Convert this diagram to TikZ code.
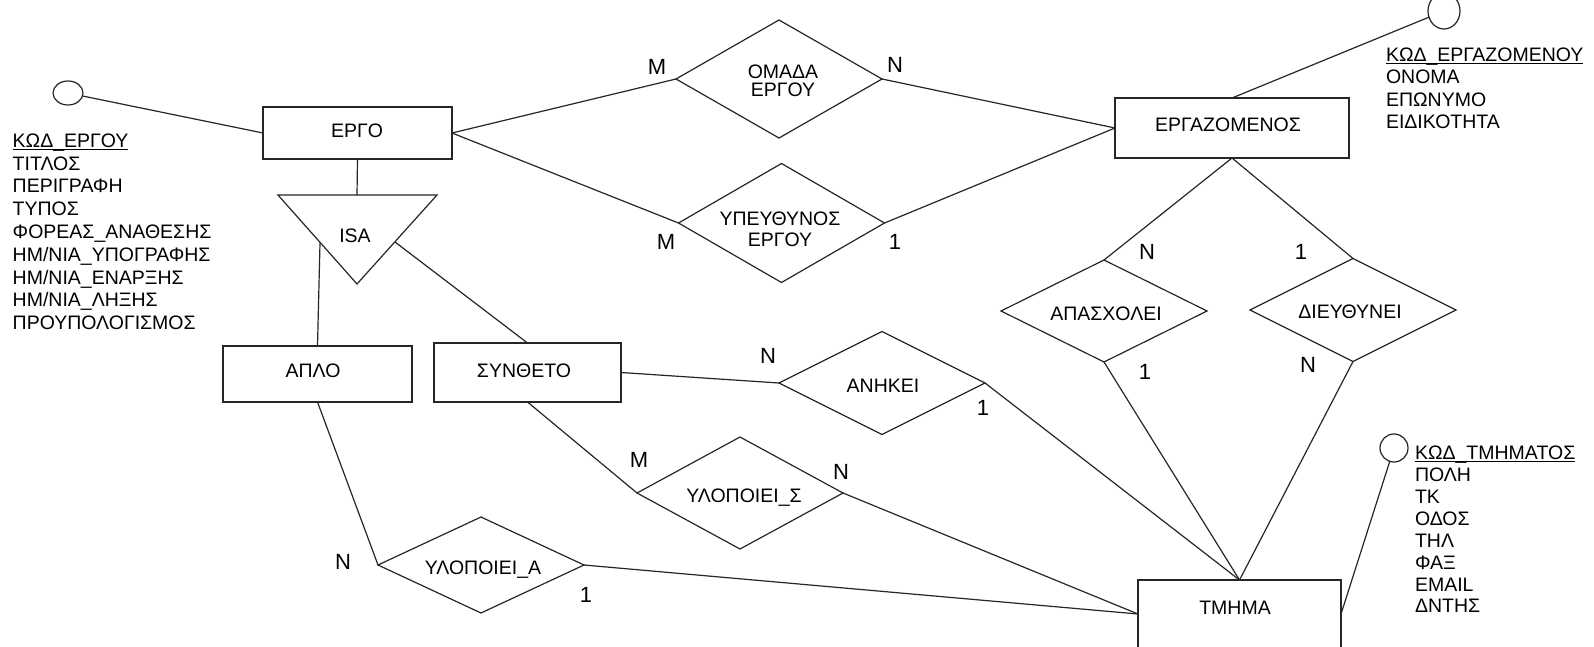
\documentclass[tikz,border=0pt]{standalone}
\usepackage{fontspec}
\setmainfont{Liberation Sans}
\usetikzlibrary{shapes.geometric}
\newcommand\ulkey[1]{\setbox0\hbox{#1}\rlap{\rule[-2.6pt]{\wd0}{1.2pt}}\box0}
\begin{document}
\begin{tikzpicture}[x=1pt,y=-1pt,
  every node/.style={inner sep=0pt, outer sep=0pt},
  line/.style={draw=black!85, line width=1.2pt},
  entity/.style={rectangle, draw=black!85, line width=1.2pt},
  rel/.style={diamond, draw=black!85, line width=1.2pt, minimum width=206pt},
  attr/.style={ellipse, draw=black!85, line width=1.2pt},
  txt/.style={font=\fontsize{19.5}{22}\selectfont, text height=14pt, text depth=0pt},
  card/.style={font=\fontsize{22}{26}\selectfont, text height=15.8pt, text depth=0pt},
  attrlist/.style={anchor=north west, align=left}
]
\useasboundingbox (0,0) rectangle (1594,647);
\fill[white] (0,0) rectangle (1594,647);
\clip (0,0) rectangle (1594,647);

% entities
\node[entity, minimum width=189pt, minimum height=52pt] (ergo) at (357.5,133) {};
\node[txt] (ergoT) at (357,131) {ΕΡΓΟ};
\node[entity, minimum width=234pt, minimum height=60pt] (ergaz) at (1232,128) {};
\node[txt] (ergazT) at (1228,125) {ΕΡΓΑΖΟΜΕΝΟΣ};
\node[entity, minimum width=189pt, minimum height=56pt] (aplo) at (317.5,374) {};
\node[txt] (aploT) at (313,370) {ΑΠΛΟ};
\node[entity, minimum width=187pt, minimum height=59pt] (synth) at (527.5,372.5) {};
\node[txt] (synthT) at (524,370) {ΣΥΝΘΕΤΟ};
\node[entity, minimum width=203pt, minimum height=68pt] (tmhma) at (1239.5,614) {};
\node[txt] (tmhmaT) at (1235,607) {ΤΜΗΜΑ};

% ISA triangle
\coordinate (isaTL) at (278,195);
\coordinate (isaTR) at (437,195);
\coordinate (isaB) at (357,284);
\coordinate (isaTop) at (357,195);
\coordinate (isaL) at (320,243);
\coordinate (isaR) at (395,242);
\draw[line] (isaTL) -- (isaTR) -- (isaB) -- cycle;
\node[txt] (isa) at (355,235) {ISA};

% relationships
\node[rel, minimum height=118pt] (omada) at (779,79) {};
\node[txt] (omadaT1) at (783,72) {ΟΜΑΔΑ};
\node[txt] (omadaT2) at (783,90) {ΕΡΓΟΥ};
\node[rel, minimum height=119pt] (ypeyth) at (781.5,223) {};
\node[txt] (ypeythT1) at (780,218) {ΥΠΕΥΘΥΝΟΣ};
\node[txt] (ypeythT2) at (780,239) {ΕΡΓΟΥ};
\node[rel, minimum height=102pt] (apasx) at (1104,311) {};
\node[txt] (apasxT) at (1106,313) {ΑΠΑΣΧΟΛΕΙ};
\node[rel, minimum height=103pt] (dieyth) at (1353,310) {};
\node[txt] (dieythT) at (1350,311) {ΔΙΕΥΘΥΝΕΙ};
\node[rel, minimum height=103pt] (anhkei) at (882,383) {};
\node[txt] (anhkeiT) at (883,385) {ΑΝΗΚΕΙ};
\node[rel, minimum height=112pt] (ylopS) at (740,493) {};
\node[txt] (ylopST) at (744,495) {ΥΛΟΠΟΙΕΙ\_Σ};
\node[rel, minimum height=96pt] (ylopA) at (481,565) {};
\node[txt] (ylopAT) at (483,567) {ΥΛΟΠΟΙΕΙ\_Α};

% attribute circles
\node[attr, minimum width=30pt, minimum height=24pt] (c1) at (68,93) {};
\node[attr, minimum width=32pt, minimum height=36pt] (c2) at (1444,11) {};
\node[attr, minimum width=28pt, minimum height=28pt] (c3) at (1394,448) {};

% attribute lists
\node[attrlist, font=\fontsize{19.5}{22.8}\selectfont] (listErgo) at (12.7,133.6)
  {\ulkey{ΚΩΔ\_ΕΡΓΟΥ}\\ΤΙΤΛΟΣ\\ΠΕΡΙΓΡΑΦΗ\\ΤΥΠΟΣ\\ΦΟΡΕΑΣ\_ΑΝΑΘΕΣΗΣ\\ΗΜ/ΝΙΑ\_ΥΠΟΓΡΑΦΗΣ\\ΗΜ/ΝΙΑ\_ΕΝΑΡΞΗΣ\\ΗΜ/ΝΙΑ\_ΛΗΞΗΣ\\ΠΡΟΥΠΟΛΟΓΙΣΜΟΣ};
\node[attrlist, font=\fontsize{19.5}{22.3}\selectfont] (listErgaz) at (1386,48)
  {\ulkey{ΚΩΔ\_ΕΡΓΑΖΟΜΕΝΟΥ}\\ΟΝΟΜΑ\\ΕΠΩΝΥΜΟ\\ΕΙΔΙΚΟΤΗΤΑ};
\node[attrlist, font=\fontsize{19.5}{21.9}\selectfont] (listTmhma) at (1415,446)
  {\ulkey{ΚΩΔ\_ΤΜΗΜΑΤΟΣ}\\ΠΟΛΗ\\ΤΚ\\ΟΔΟΣ\\ΤΗΛ\\ΦΑΞ\\EMAIL\\ΔΝΤΗΣ};

% connectors
\draw[line] (c1) -- (ergo.west);
\draw[line] (c2) -- (ergaz.north);
\draw[line] (c3) -- (tmhma.east);
\draw[line] (ergo.south) -- (isaTop);
\draw[line] (isaL) -- (aplo.north);
\draw[line] (isaR) -- (synth.north);
\draw[line] (ergo.east) -- (omada.west);
\draw[line] (ergo.east) -- (ypeyth.west);
\draw[line] (omada.east) -- (ergaz.west);
\draw[line] (ypeyth.east) -- (ergaz.west);
\draw[line] (ergaz.south) -- (apasx.north);
\draw[line] (ergaz.south) -- (dieyth.north);
\draw[line] (apasx.south) -- (tmhma.north);
\draw[line] (dieyth.south) -- (tmhma.north);
\draw[line] (synth.east) -- (anhkei.west);
\draw[line] (anhkei.east) -- (tmhma.north);
\draw[line] (synth.south) -- (ylopS.west);
\draw[line] (ylopS.east) -- (tmhma.west);
\draw[line] (aplo.south) -- (ylopA.west);
\draw[line] (ylopA.east) -- (tmhma.west);

% cardinalities
\node[card] (k1) at (657,67) {M};
\node[card] (k2) at (895,65) {N};
\node[card] (k3) at (666,242) {M};
\node[card] (k4) at (895,242) {1};
\node[card] (k5) at (1147,252) {N};
\node[card] (k6) at (1145,372) {1};
\node[card] (k7) at (1301,252) {1};
\node[card] (k8) at (1308,365) {N};
\node[card] (k9) at (768,356) {N};
\node[card] (k10) at (983,408) {1};
\node[card] (k11) at (639,460) {M};
\node[card] (k12) at (841,472) {N};
\node[card] (k13) at (343,562) {N};
\node[card] (k14) at (586,595) {1};
\end{tikzpicture}
\end{document}
